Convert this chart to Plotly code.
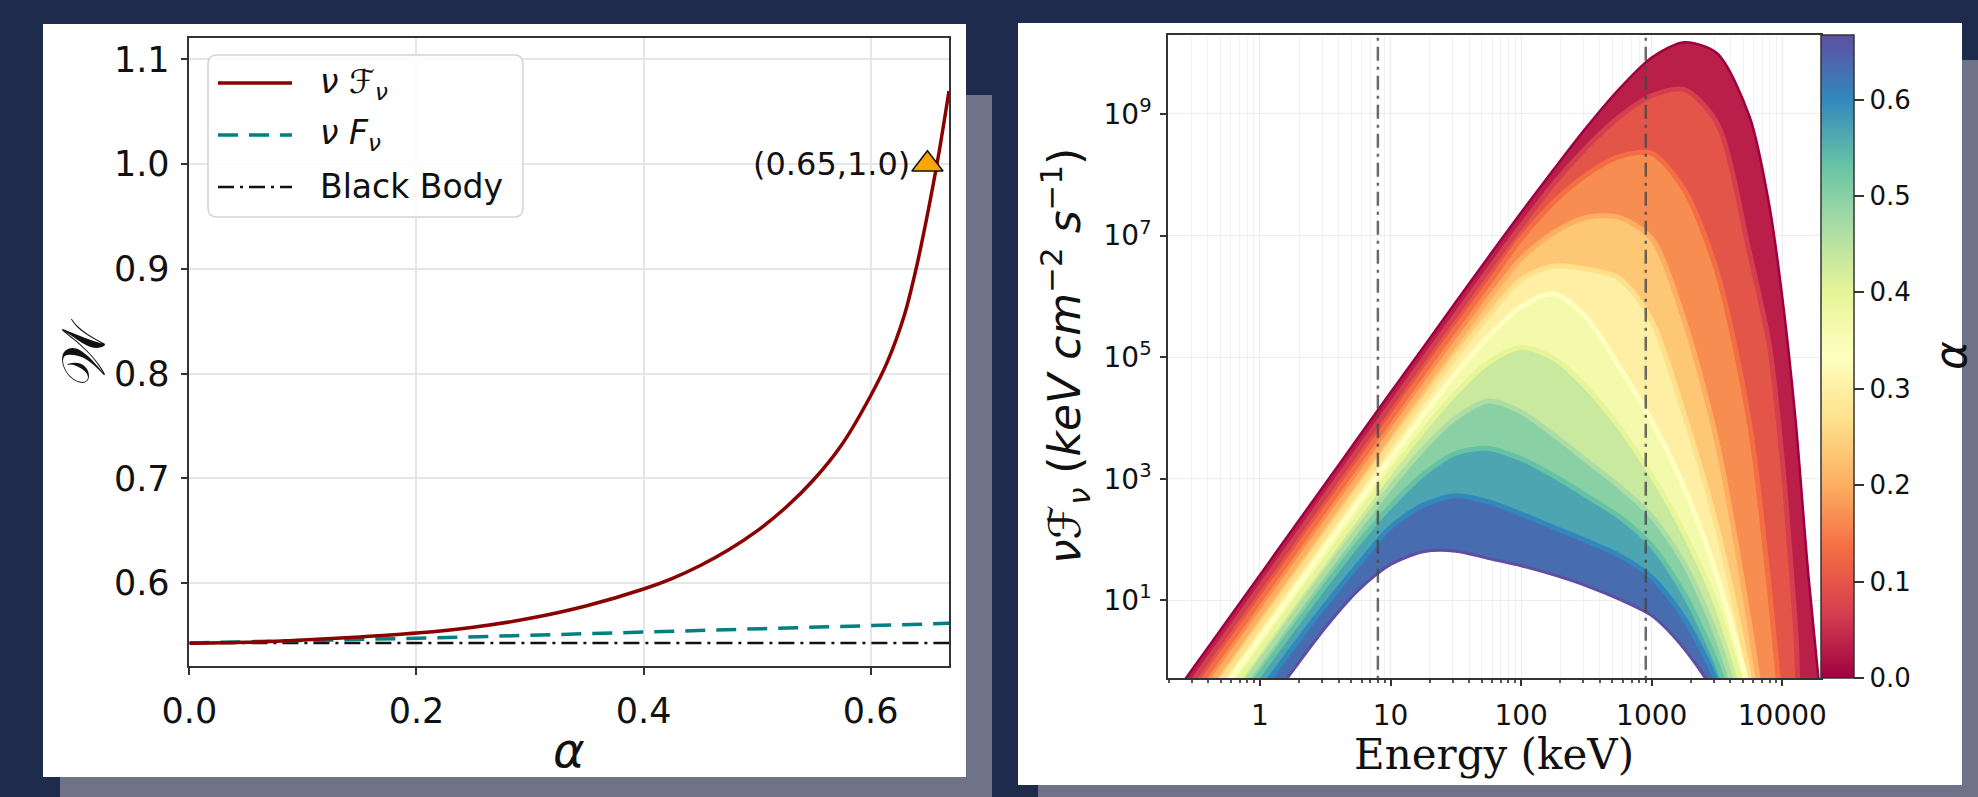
import numpy as np
import plotly.graph_objects as go
from plotly.colors import sample_colorscale

# ---------------- left panel data ----------------
alpha_cal = [0, 0.05, 0.1, 0.15, 0.2, 0.25, 0.3, 0.35, 0.4, 0.425, 0.45, 0.475, 0.5, 0.525,
             0.55, 0.575, 0.6, 0.615, 0.63, 0.64, 0.65, 0.66, 0.669]
W_cal = [0.5427, 0.5436, 0.5458, 0.5487, 0.5524, 0.5580, 0.5665, 0.5785, 0.5945, 0.6045,
         0.6170, 0.6320, 0.6500, 0.6720, 0.6990, 0.7330, 0.7790, 0.8120, 0.8570, 0.9000,
         0.9520, 1.0100, 1.0700]
alpha_F = [0, 0.1, 0.2, 0.3, 0.4, 0.5, 0.6, 0.669]
W_F = [0.5430, 0.5450, 0.5475, 0.5503, 0.5535, 0.5566, 0.5597, 0.5617]
alpha_bb = [0, 0.669]
W_bb = [0.5430, 0.5430]
marker_alpha = [0.65]
marker_W = [1.0]
legend_labels = ["<i>ν</i> <i>ℱ</i><sub><i>ν</i></sub>", "<i>ν</i> <i>F</i><sub><i>ν</i></sub>", "Black Body"]

# ---------------- right panel data ----------------
# log10 energy grid (keV) and log10 nuFnu for alpha = k/15, k = 0..10
logE = [-0.8, -0.5, -0.25, 0, 0.25, 0.5, 0.75, 1.0, 1.25, 1.5, 1.75, 2.0, 2.25,
        2.5, 2.75, 3.0, 3.25, 3.5, 3.75, 3.9, 4.0, 4.1, 4.2, 4.4]
alpha_curves = [0/15, 1/15, 2/15, 3/15, 4/15, 5/15, 6/15, 7/15, 8/15, 9/15, 10/15]
logF = [
    [-0.98, -0.08, 0.67, 1.42, 2.17, 2.92, 3.67, 4.42, 5.16, 5.91, 6.65, 7.38, 8.09, 8.78, 9.41, 9.93, 10.18, 10.0, 8.95, 7.5, 5.98, 4.0, 1.4, -3.0],
    [-1.18, -0.28, 0.47, 1.22, 1.97, 2.72, 3.47, 4.21, 4.96, 5.70, 6.44, 7.16, 7.85, 8.45, 8.95, 9.30, 9.40, 8.85, 6.70, 5.2, 3.3, 0.6, -2.5, -3.1],
    [-1.40, -0.50, 0.25, 1.00, 1.75, 2.50, 3.25, 3.99, 4.74, 5.48, 6.21, 6.95, 7.55, 8.00, 8.30, 8.35, 7.75, 6.40, 3.90, 1.2, -1.0, -3.2, -3.2, -3.2],
    [-1.63, -0.73, 0.02, 0.77, 1.52, 2.27, 3.01, 3.76, 4.50, 5.23, 5.95, 6.62, 7.05, 7.30, 7.30, 6.95, 5.60, 3.60, 0.60, -1.6, -3.3, -3.3, -3.3, -3.3],
    [-1.82, -0.92, -0.17, 0.58, 1.33, 2.07, 2.82, 3.56, 4.29, 5.01, 5.68, 6.28, 6.50, 6.45, 6.30, 5.60, 4.05, 2.20, -0.30, -2.2, -3.4, -3.4, -3.4, -3.4],
    [-2.01, -1.11, -0.36, 0.385, 1.13, 1.875, 2.61, 3.34, 4.05, 4.73, 5.34, 5.83, 6.04, 5.65, 4.85, 3.95, 2.85, 1.40, -0.55, -2.6, -3.5, -3.5, -3.5, -3.5],
    [-2.21, -1.31, -0.56, 0.18, 0.93, 1.66, 2.39, 3.11, 3.79, 4.41, 4.91, 5.16, 4.98, 4.50, 3.85, 3.05, 2.10, 0.90, -0.90, -2.7, -3.6, -3.6, -3.6, -3.6],
    [-2.40, -1.50, -0.76, -0.01, 0.73, 1.46, 2.17, 2.86, 3.49, 4.00, 4.28, 4.10, 3.72, 3.30, 2.88, 2.38, 1.60, 0.40, -1.40, -3.0, -3.7, -3.7, -3.7, -3.7],
    [-2.59, -1.69, -0.95, -0.21, 0.52, 1.24, 1.93, 2.55, 3.07, 3.42, 3.50, 3.33, 3.05, 2.72, 2.38, 1.90, 1.10, -0.05, -1.80, -3.3, -3.8, -3.8, -3.8, -3.8],
    [-2.89, -1.99, -1.25, -0.51, 0.22, 0.92, 1.58, 2.20, 2.57, 2.72, 2.62, 2.42, 2.20, 1.98, 1.74, 1.38, 0.70, -0.35, -2.00, -3.5, -3.9, -3.9, -3.9, -3.9],
    [-3.30, -2.40, -1.66, -0.91, -0.16, 0.55, 1.16, 1.59, 1.80, 1.81, 1.69, 1.57, 1.42, 1.24, 1.02, 0.75, 0.20, -0.60, -2.00, -3.0, -4.0, -4.0, -4.0, -4.0],
]
vline_energy = [8, 900]
cbar_ticks = [0.0, 0.1, 0.2, 0.3, 0.4, 0.5, 0.6]
x_ticks_E = [1, 10, 100, 1000, 10000]
y_ticks_F = [1e1, 1e3, 1e5, 1e7, 1e9]

SPECTRAL = ['rgb(158,1,66)', 'rgb(213,62,79)', 'rgb(244,109,67)', 'rgb(253,174,97)',
            'rgb(254,224,139)', 'rgb(255,255,191)', 'rgb(230,245,152)', 'rgb(171,221,164)',
            'rgb(102,194,165)', 'rgb(50,136,189)', 'rgb(94,79,162)']
cscale = [[i / 10, c] for i, c in enumerate(SPECTRAL)]
amax = 0.667

# ---------------- geometry helpers ----------------
FW, FH = 1978, 797
def px(x): return x / FW
def py(y): return 1 - y / FH

NAVY = '#1f2b4d'
SHADOW = '#6f7387'
FONT = 'DejaVu Sans'

fig = go.Figure()

# ---- left panel traces ----
fig.add_trace(go.Scatter(x=alpha_bb, y=W_bb, mode='lines', xaxis='x', yaxis='y',
                         line=dict(color='#111111', width=2.5, dash='16px,6px,3px,6px')))
fig.add_trace(go.Scatter(x=alpha_F, y=W_F, mode='lines', xaxis='x', yaxis='y',
                         line=dict(color='#008080', width=3.5, dash='20px,11px')))
fig.add_trace(go.Scatter(x=alpha_cal, y=W_cal, mode='lines', xaxis='x', yaxis='y',
                         line=dict(color='#8b0000', width=3.5, shape='spline', smoothing=0.8)))
fig.add_trace(go.Scatter(x=marker_alpha, y=marker_W, mode='markers', xaxis='x', yaxis='y',
                         cliponaxis=False,
                         marker=dict(symbol='triangle-up', size=27, color='#ffa500',
                                     line=dict(color='#111111', width=1.5))))

# ---- right panel: bands between successive alpha curves ----
E = [10 ** v for v in logE]
def curve_color(a):
    return sample_colorscale(cscale, [min(a / amax, 1.0)])[0]

for k in range(len(alpha_curves) - 1):
    ya = [10 ** v for v in logF[k]]
    yb = [10 ** v for v in logF[k + 1]]
    col = curve_color(0.5 * (alpha_curves[k] + alpha_curves[k + 1]))
    fig.add_trace(go.Scatter(x=E + E[::-1], y=ya + yb[::-1], mode='lines', fill='toself',
                             fillcolor=col, xaxis='x2', yaxis='y2',
                             line=dict(color=col, width=1, shape='spline', smoothing=0.8),
                             hoverinfo='skip'))
# each alpha curve drawn as a line in its own colour
for k in range(1, len(alpha_curves) - 1):
    fig.add_trace(go.Scatter(x=E, y=[10 ** v for v in logF[k]], mode='lines', xaxis='x2', yaxis='y2',
                             line=dict(color=curve_color(alpha_curves[k]), width=5,
                                       shape='spline', smoothing=0.8), hoverinfo='skip'))
fig.add_trace(go.Scatter(x=E, y=[10 ** v for v in logF[0]], mode='lines', xaxis='x2', yaxis='y2',
                         line=dict(color=SPECTRAL[0], width=2.5, shape='spline', smoothing=0.8)))
fig.add_trace(go.Scatter(x=E, y=[10 ** v for v in logF[-1]], mode='lines', xaxis='x2', yaxis='y2',
                         line=dict(color=SPECTRAL[-1], width=3, shape='spline', smoothing=0.8)))
for ev in vline_energy:
    fig.add_trace(go.Scatter(x=[ev, ev], y=[1e-3, 1e12], mode='lines', xaxis='x2', yaxis='y2',
                             line=dict(color='rgba(70,70,70,0.8)', width=2.5, dash='14px,6px,3px,6px')))
# colorbar carrier
fig.add_trace(go.Scatter(x=[1e-3], y=[1e-3], mode='markers', xaxis='x2', yaxis='y2',
                         marker=dict(color=[0, amax], cmin=0, cmax=amax, colorscale=cscale, size=1,
                                     showscale=True,
                                     colorbar=dict(x=px(1821), xanchor='left', xpad=0,
                                                   y=py(356.5), yanchor='middle', ypad=0,
                                                   len=643, lenmode='pixels', thickness=33,
                                                   outlinewidth=1.5, outlinecolor='#333',
                                                   tickvals=cbar_ticks,
                                                   ticktext=[f'{t:.1f}' for t in cbar_ticks],
                                                   ticks='outside', ticklen=10, tickwidth=1.5,
                                                   tickcolor='#333',
                                                   tickfont=dict(size=26, color='#111', family=FONT)))))

minor_E = [m * 10 ** p for p in range(-1, 5) for m in range(2, 10)]

axis_common = dict(showline=True, mirror=True, linecolor='#333', linewidth=1.5, automargin=False,
                   ticks='outside', tickcolor='#333', tickwidth=1.5, zeroline=False)

fig.update_layout(
    template='none',
    width=FW, height=FH, margin=dict(l=0, r=0, t=0, b=0, pad=0), autosize=False,
    paper_bgcolor=NAVY, plot_bgcolor='white', showlegend=False,
    font=dict(family=FONT, color='#111'),
    xaxis=dict(domain=[px(189.4), px(949)], range=[0, 0.669], anchor='y',
               tickvals=[0, 0.2, 0.4, 0.6], ticktext=['0.0', '0.2', '0.4', '0.6'],
               ticklen=7, tickfont=dict(size=35, color='#111'), showgrid=True, gridcolor='#e6e6e6', gridwidth=1.5,
               ticklabelstandoff=6, **axis_common),
    yaxis=dict(domain=[py(666), py(38)], range=[0.521, 1.1205], anchor='x',
               tickvals=[0.6, 0.7, 0.8, 0.9, 1.0, 1.1],
               ticktext=['0.6', '0.7', '0.8', '0.9', '1.0', '1.1'],
               ticklen=7, tickfont=dict(size=35, color='#111'), showgrid=True, gridcolor='#e6e6e6', gridwidth=1.5,
               ticklabelstandoff=4, **axis_common),
    xaxis2=dict(domain=[px(1168), px(1821)], type='log', range=[-0.704, 4.296], anchor='y2',
                tickvals=x_ticks_E, ticktext=[str(v) for v in x_ticks_E],
                ticklen=6, tickfont=dict(size=28, color='#111'), showgrid=True, gridcolor='#ececec', gridwidth=1,
                minor=dict(tickvals=minor_E, ticks='outside', ticklen=3.5, tickcolor='#555',
                           showgrid=True, gridcolor='#f1f1f1', gridwidth=1),
                ticklabelstandoff=6, **axis_common),
    yaxis2=dict(domain=[py(678), py(35)], type='log', range=[-0.276, 10.299], anchor='x2',
                tickvals=y_ticks_F,
                ticktext=[f'10<sup>{int(round(np.log10(v)))}</sup>' for v in y_ticks_F],
                ticklen=6, tickfont=dict(size=28, color='#111'), showgrid=True, gridcolor='#ececec', gridwidth=1.2,
                ticklabelstandoff=3, **axis_common),
)

# ---- background panels and shadows ----
def rect(x0, y0, x1, y1, color):
    return dict(type='rect', xref='paper', yref='paper', x0=px(x0), x1=px(x1),
                y0=py(y1), y1=py(y0), fillcolor=color, line=dict(width=0), layer='below')

shapes = [
    rect(60, 95, 992, 797, SHADOW),
    rect(43, 24, 966, 777, 'white'),
    rect(1038, 60, 1978, 797, SHADOW),
    rect(1018, 23, 1962, 785, 'white'),
]

# ---- manual legend (left panel) ----
lx0, ly0, lx1, ly1, r = 208, 55, 523, 217, 9
path = (f"M {px(lx0 + r)},{py(ly0)} L {px(lx1 - r)},{py(ly0)} "
        f"Q {px(lx1)},{py(ly0)} {px(lx1)},{py(ly0 + r)} L {px(lx1)},{py(ly1 - r)} "
        f"Q {px(lx1)},{py(ly1)} {px(lx1 - r)},{py(ly1)} L {px(lx0 + r)},{py(ly1)} "
        f"Q {px(lx0)},{py(ly1)} {px(lx0)},{py(ly1 - r)} L {px(lx0)},{py(ly0 + r)} "
        f"Q {px(lx0)},{py(ly0)} {px(lx0 + r)},{py(ly0)} Z")
shapes.append(dict(type='path', path=path, xref='paper', yref='paper',
                   fillcolor='rgba(255,255,255,0.85)', line=dict(color='#d4d4d4', width=1.5),
                   layer='above'))
leg_rows = [83, 135, 187]
leg_styles = [dict(color='#8b0000', width=3.5), dict(color='#008080', width=3.5, dash='20px,11px'),
              dict(color='#111111', width=2.5, dash='16px,6px,3px,6px')]
annotations = []
for yrow, st, lab in zip(leg_rows, leg_styles, legend_labels):
    shapes.append(dict(type='line', xref='paper', yref='paper', x0=px(218), x1=px(292),
                       y0=py(yrow), y1=py(yrow), line=st, layer='above'))
    annotations.append(dict(x=px(318), y=py(yrow), xref='paper', yref='paper', text=lab,
                            showarrow=False, xanchor='left', yanchor='middle',
                            font=dict(size=33, color='#111')))

# point label
annotations.append(dict(x=marker_alpha[0], y=marker_W[0], xref='x', yref='y',
                        text=f'({marker_alpha[0]},{marker_W[0]})', showarrow=False,
                        xanchor='right', yanchor='middle', xshift=-15,
                        font=dict(size=32, color='#111')))
# axis titles
def title_ann(x, y, text, size, angle=0, family=FONT):
    return dict(x=px(x), y=py(y), xref='paper', yref='paper', text=text, textangle=angle,
                showarrow=False, xanchor='center', yanchor='middle',
                font=dict(size=size, color='#111', family=family))

annotations += [
    title_ann(83, 352, '𝒲', 60, -90),
    title_ann(569, 750, '<i>α</i>', 48),
    title_ann(1065, 356, '<i>ν</i><i>ℱ</i><sub><i>ν</i></sub> (<i>keV cm</i><sup>−2</sup> <i>s</i><sup>−1</sup>)', 44, -90),
    title_ann(1494, 754, 'Energy (keV)', 42, 0, 'DejaVu Serif'),
    title_ann(1950, 356, '<i>α</i>', 44, -90),
]

fig.update_layout(shapes=shapes, annotations=annotations)
fig.write_html("out.html")
